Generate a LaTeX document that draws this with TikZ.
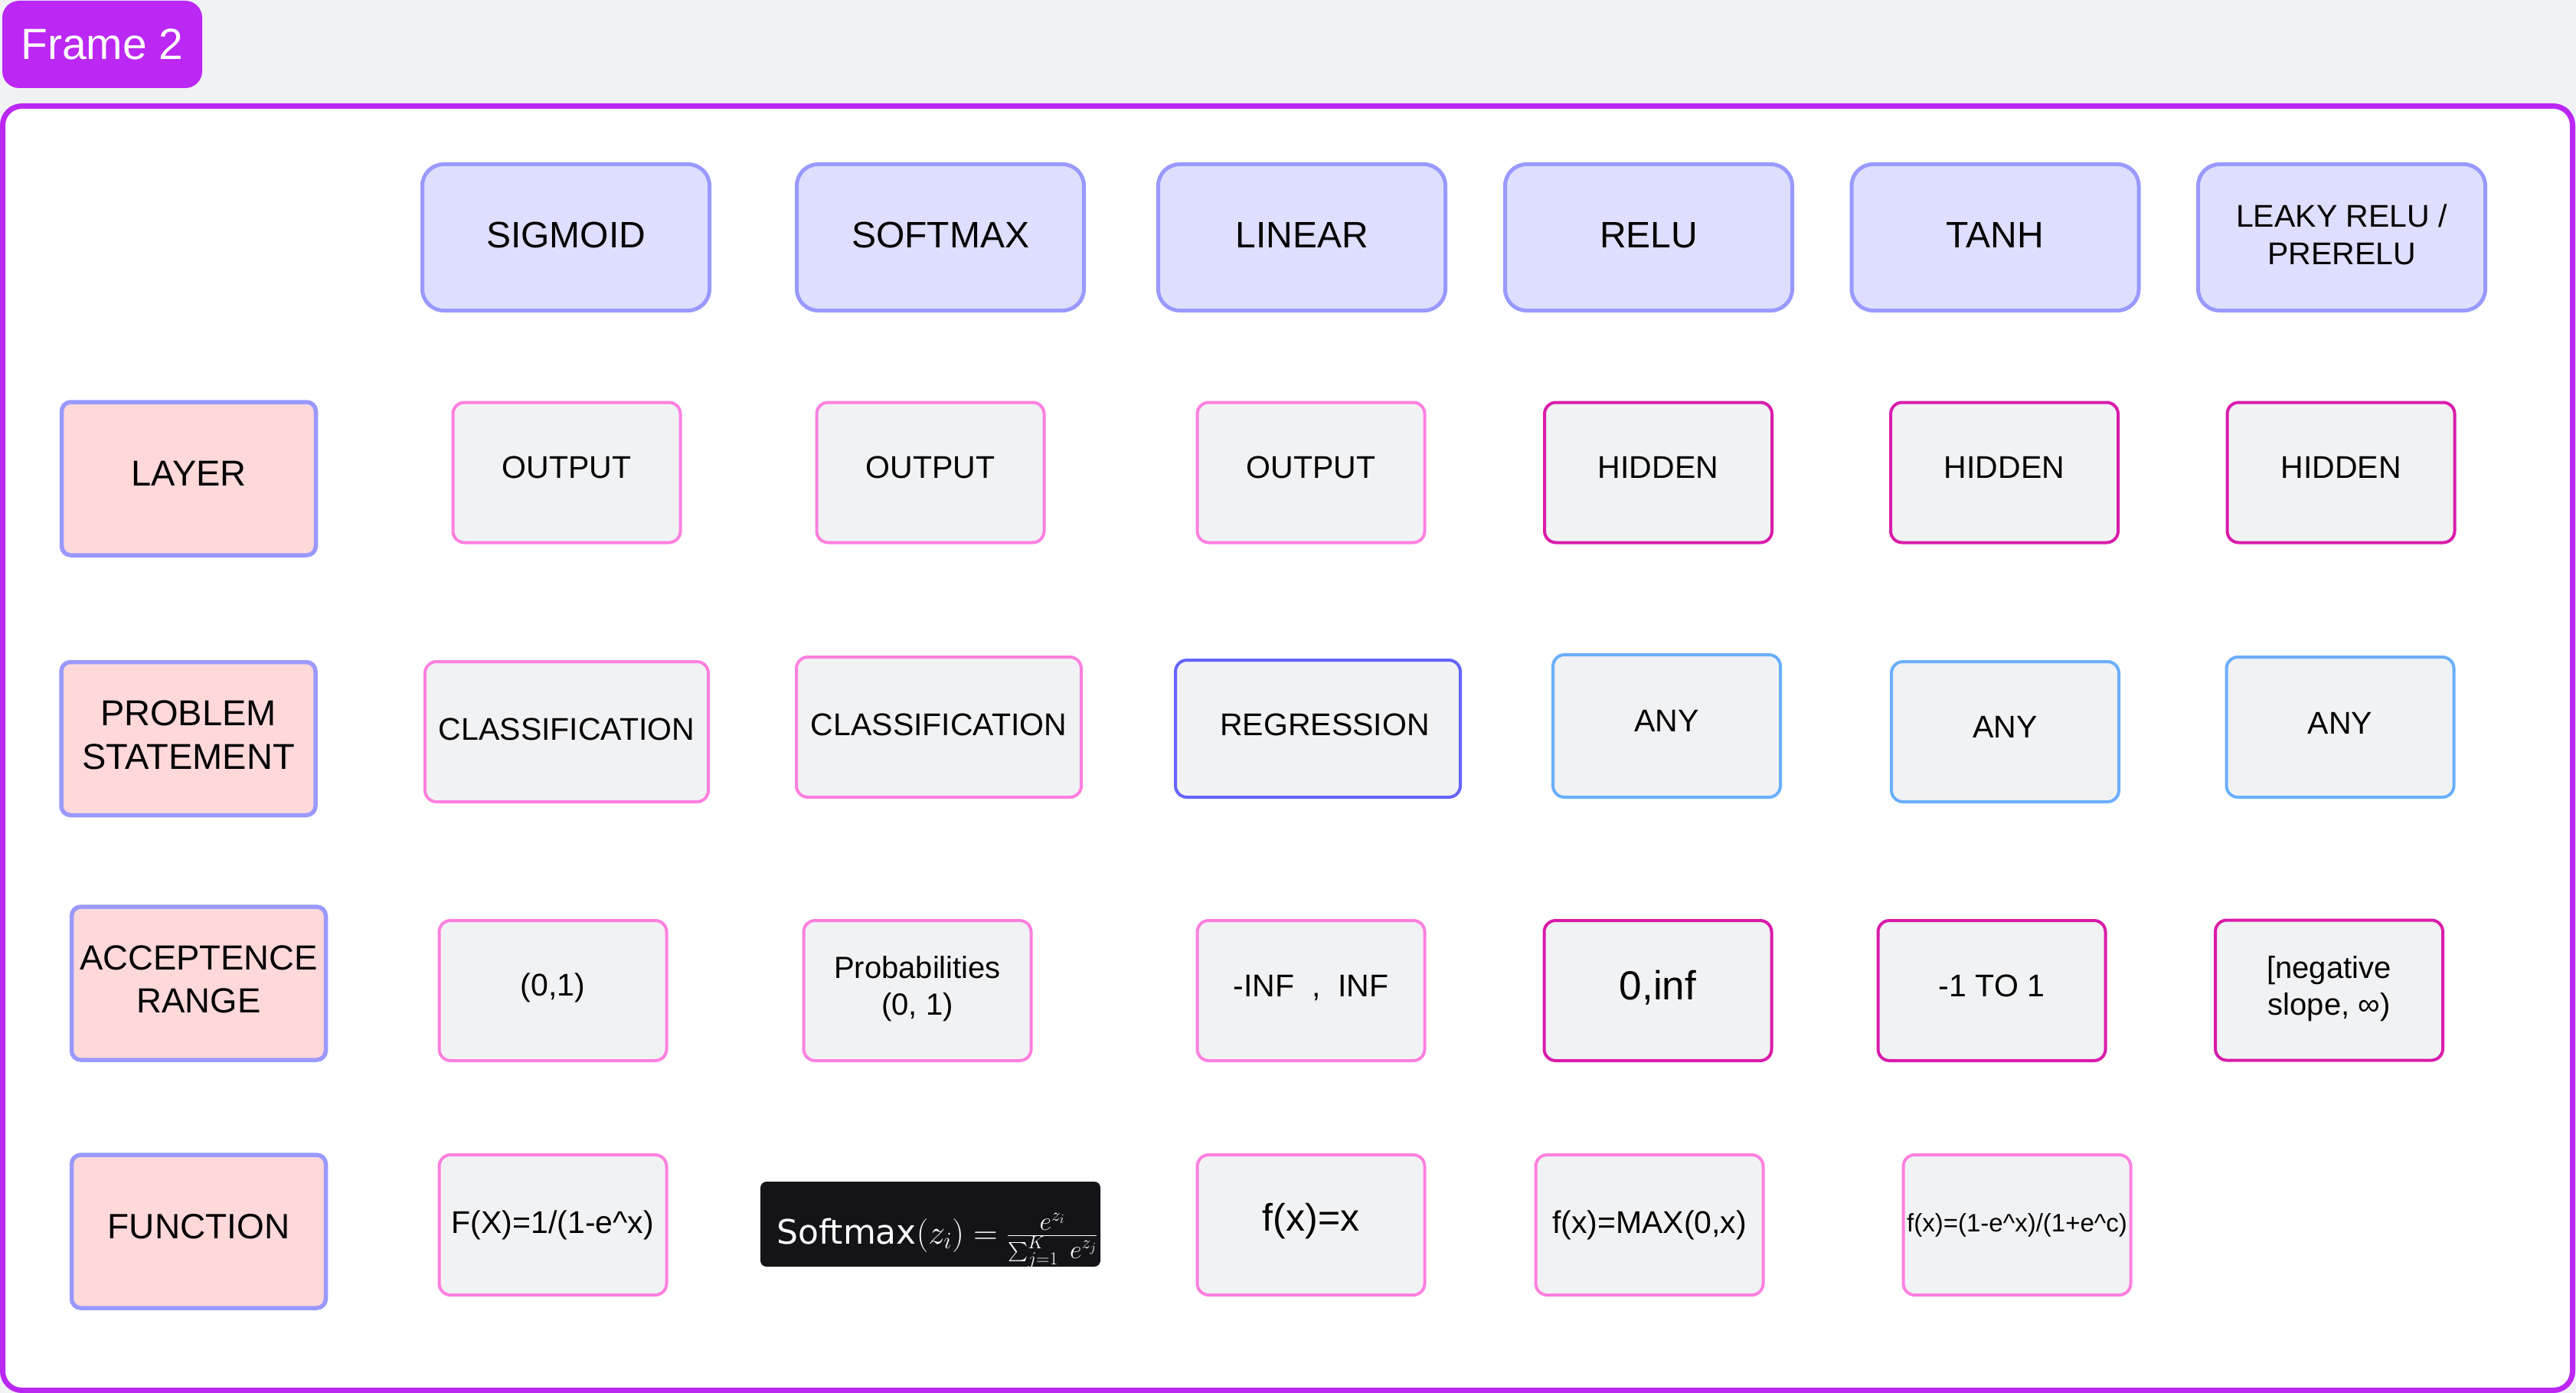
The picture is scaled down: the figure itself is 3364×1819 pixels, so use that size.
\RequirePackage{fix-cm}
\documentclass[tikz,border=0pt]{standalone}
\usepackage{exscale}
\usepackage[no-math]{fontspec}
\setmainfont{Liberation Sans}
\newfontfamily\dejavu{DejaVu Sans}
\definecolor{bgc}{HTML}{F1F2F4}
\definecolor{framec}{HTML}{BB27F3}
\definecolor{hdrfill}{HTML}{DEDEFF}
\definecolor{hdrline}{HTML}{9999FF}
\definecolor{lblfill}{HTML}{FFD8DA}
\definecolor{cellfill}{HTML}{F1F2F4}
\definecolor{pinkline}{HTML}{FF80DF}
\definecolor{magline}{HTML}{D91CAB}
\definecolor{blueline}{HTML}{6AAFFF}
\definecolor{regline}{HTML}{6464FF}
\definecolor{imgblack}{HTML}{141418}
\newcommand{\fracpart}[1]{\mbox{\fontsize{34}{40}\selectfont$#1$}}
\begin{document}
\begin{tikzpicture}[x=1pt,y=-1pt,
  base/.style={rectangle, inner sep=0pt, align=center, text=black},
  hdr/.style={base, fill=hdrfill, draw=hdrline, line width=5pt, rounded corners=28pt,
    minimum width=375pt, minimum height=191pt, text height=36pt, text depth=8.2pt, font=\fontsize{48}{56}\selectfont},
  lbl/.style={base, fill=lblfill, draw=hdrline, line width=5.5pt, rounded corners=12pt,
    minimum width=332pt, minimum height=200pt, font=\fontsize{47}{57}\selectfont},
  cell/.style={base, fill=cellfill, line width=4pt, rounded corners=15pt,
    minimum width=297pt, minimum height=183pt, font=\fontsize{41}{49}\selectfont},
  ct/.style={text height=30.75pt, text depth=#1},
  pinkc/.style={cell, draw=pinkline},
  magc/.style={cell, draw=magline},
  bluec/.style={cell, draw=blueline},
  regc/.style={cell, draw=regline}]
\useasboundingbox (0,0) rectangle (3364,1819);
\fill[bgc] (0,0) rectangle (3364,1819);
% frame
\node[draw=framec, fill=white, line width=7pt, rounded corners=25pt, minimum width=3356pt,
  minimum height=1677pt, inner sep=0pt] (frame) at (1681.5,977) {};
\node[fill=framec, rounded corners=22pt, minimum width=261pt, minimum height=114pt, inner sep=0pt,
  text=white, font=\fontsize{57}{60}\selectfont] (title) at (133.5,58) {Frame 2};
% headers
\node[hdr] (h1) at (739,310) {SIGMOID};
\node[hdr] (h2) at (1228,310) {SOFTMAX};
\node[hdr] (h3) at (1700,310) {LINEAR};
\node[hdr] (h4) at (2153,310) {RELU};
\node[hdr] (h5) at (2605.5,310) {TANH};
\node[base, fill=hdrfill, draw=hdrline, line width=5pt, rounded corners=28pt,
    minimum width=375pt, minimum height=191pt, text depth=8.2pt, font=\fontsize{41}{49}\selectfont] (h6) at (3058,310) {LEAKY RELU /\\PRERELU};
% row labels
\node[lbl, text height=35.3pt, text depth=16.5pt] (r1) at (246.5,625) {LAYER};
\node[lbl, text depth=10pt] (r2) at (246,964.5) {PROBLEM\\STATEMENT};
\node[lbl, text depth=10pt, font=\fontsize{45.5}{56}\selectfont] (r3) at (259.5,1284) {ACCEPTENCE\\RANGE};
\node[lbl, text height=34.5pt, text depth=16.1pt, font=\fontsize{46}{56}\selectfont] (r4) at (259.5,1608) {FUNCTION};
% row 1
\node[pinkc, ct=15.2pt] (a1) at (740,617) {OUTPUT};
\node[pinkc, ct=15.2pt] (a2) at (1215,617) {OUTPUT};
\node[pinkc, ct=15.2pt] (a3) at (1712,617) {OUTPUT};
\node[magc, ct=15.2pt] (a4) at (2165.5,617) {HIDDEN};
\node[magc, ct=15.2pt] (a5) at (2617.5,617) {HIDDEN};
\node[magc, ct=15.2pt] (a6) at (3057,617) {HIDDEN};
% row 2
\node[pinkc, ct=8.2pt, minimum width=370pt] (b1) at (740,955.5) {CLASSIFICATION};
\node[pinkc, ct=8.2pt, minimum width=372pt] (b2) at (1226,949.5) {CLASSIFICATION};
\node[regc, ct=12.3pt, minimum width=372pt, minimum height=179pt] (b3) at (1721,951.5) {\hspace*{18pt}REGRESSION};
\node[bluec, ct=15.2pt, minimum height=186pt] (b4) at (2176.5,948) {ANY};
\node[bluec, ct=15.2pt] (b5) at (2618.5,955.5) {ANY};
\node[bluec, ct=13.5pt] (b6) at (3056,949.5) {ANY};
% row 3
\node[pinkc, ct=16pt] (c1) at (722,1293.5) {(0,1)};
\node[pinkc, text depth=12.6pt, font=\fontsize{40}{48}\selectfont] (c2) at (1198,1293.5) {Probabilities\\(0, 1)};
\node[pinkc, ct=14.4pt] (c3) at (1712,1293.5) {-INF\ \ ,\ \ INF};
\node[magc, text height=39.75pt, text depth=15.9pt, font=\fontsize{53}{60}\selectfont] (c4) at (2165,1293.5) {0,inf};
\node[magc, ct=14.4pt] (c5) at (2601,1293.5) {-1 TO 1};
\node[magc, text depth=12.4pt, font=\fontsize{40}{48}\selectfont] (c6) at (3041.5,1293) {[negative\\slope, ∞)};
% row 4
\node[pinkc] (d1) at (722,1599.5) {F(X)=1/(1-e\^{}x)};
\node[fill=imgblack, rounded corners=8pt, minimum width=444pt, minimum height=111pt, inner sep=0pt] (d2) at (1215,1598.5) {};
\node[text=white, inner sep=0pt, anchor=base west, font=\fontsize{44}{52}\selectfont] (d2t) at (1014,1624)
  {$\mbox{\dejavu\fontsize{44}{50}\selectfont Softmax}(z_i)=\frac{\fracpart{e^{z_i}}}{\fracpart{\sum_{j=1}^{K}\;e^{z_j}}}$};
\node[pinkc, text height=37.5pt, text depth=22.5pt, font=\fontsize{50}{58}\selectfont] (d3) at (1712,1599.5) {f(x)=x};
\node[pinkc] (d4) at (2154,1599.5) {f(x)=MAX(0,x)};
\node[pinkc, font=\fontsize{33}{40}\selectfont] (d5) at (2634,1599.5) {f(x)=(1-e\^{}x)/(1+e\^{}c)};
\end{tikzpicture}
\end{document}
